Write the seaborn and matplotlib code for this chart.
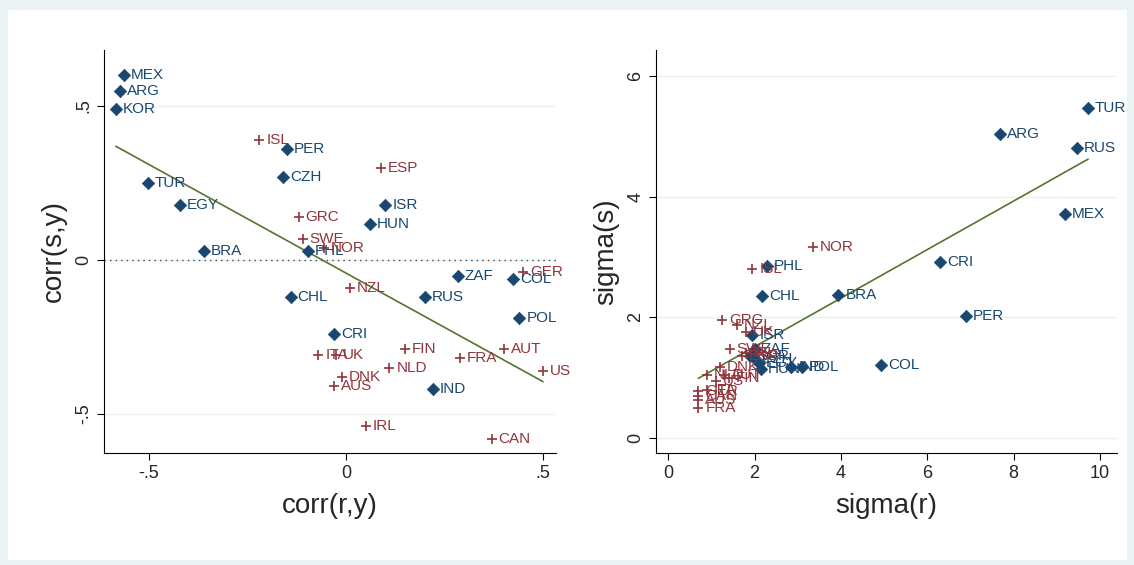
import numpy as np
import pandas as pd
import matplotlib
matplotlib.use("Agg")
import matplotlib.pyplot as plt
import seaborn as sns

em_names = ["MEX","ARG","KOR","TUR","EGY","BRA","PER","CZH","ISR","HUN","PHL","ZAF","COL","RUS","CHL","POL","CRI","IND"]
em_corr_ry = [-0.563,-0.574,-0.584,-0.503,-0.421,-0.36,-0.15,-0.16,0.10,0.061,-0.096,0.284,0.424,0.20,-0.14,0.44,-0.03,0.22]
em_corr_sy = [0.60,0.549,0.49,0.25,0.18,0.03,0.36,0.27,0.18,0.117,0.03,-0.052,-0.062,-0.12,-0.12,-0.19,-0.24,-0.42]
em_sig_r = [9.19,7.69,1.9,9.72,2.1,3.94,6.90,2.0,1.95,2.15,2.29,2.0,4.93,9.47,2.18,3.1,6.30,2.85]
em_sig_s = [3.71,5.04,1.35,5.47,1.25,2.37,2.02,1.30,1.71,1.15,2.85,1.48,1.21,4.81,2.35,1.17,2.92,1.17]

dv_names = ["ISL","ESP","GRC","SWE","NOR","NZL","GER","FIN","ITA","UK","FRA","AUT","US","NLD","DNK","AUS","IRL","CAN"]
dv_corr_ry = [-0.22,0.089,-0.12,-0.11,-0.056,0.01,0.45,0.15,-0.07,-0.025,0.29,0.40,0.50,0.11,-0.01,-0.03,0.05,0.37]
dv_corr_sy = [0.39,0.30,0.14,0.068,0.04,-0.09,-0.04,-0.29,-0.31,-0.31,-0.32,-0.29,-0.36,-0.35,-0.38,-0.41,-0.54,-0.58]
dv_sig_r = [1.95,1.7,1.25,1.43,3.36,1.6,0.7,1.4,0.9,1.8,0.7,1.3,1.1,0.9,1.2,0.7,1.8,0.7]
dv_sig_s = [2.80,1.35,1.96,1.48,3.17,1.87,0.78,1.0,0.8,1.75,0.5,1.05,0.95,1.05,1.18,0.63,1.4,0.70]

df = pd.DataFrame({
    "name": em_names + dv_names,
    "corr_ry": em_corr_ry + dv_corr_ry,
    "corr_sy": em_corr_sy + dv_corr_sy,
    "sig_r": em_sig_r + dv_sig_r,
    "sig_s": em_sig_s + dv_sig_s,
    "grp": ["em"] * len(em_names) + ["dv"] * len(dv_names),
})

BLUE = "#1a476f"
RED = "#90353b"
GREEN = "#55752f"
sns.set_style("white")
plt.rcParams["font.family"] = ["Liberation Sans", "DejaVu Sans"]

fig = plt.figure(figsize=(11.34, 5.65), dpi=100)
fig.patch.set_facecolor("#eaf2f3")
fig.patches.append(plt.Rectangle((8/1134, 1-560/565), 1119/1134, 550/565,
                                 transform=fig.transFigure, facecolor="white", edgecolor="none", zorder=-10))

axL = fig.add_axes([104/1134, 1-453/565, 452/1134, 403/565])
axR = fig.add_axes([656/1134, 1-453/565, 461/1134, 403/565])
axL.set_zorder(5); axR.set_zorder(5)

def panel(ax, xc, yc, xlim, ylim, xt, xtl, yt, ytl, xlabel, ylabel, zero):
    ax.set_facecolor("white")
    for yv in yt:
        ax.axhline(yv, color="#eaf2f3", lw=1, zorder=0)
    if zero:
        ax.axhline(0, color="#444444", lw=1, ls=(0, (1, 3)), zorder=1)
    em = df[df.grp == "em"]
    dv = df[df.grp == "dv"]
    sns.scatterplot(data=em, x=xc, y=yc, ax=ax, marker="D", s=40, color=BLUE, edgecolor=BLUE, zorder=3, legend=False)
    sns.scatterplot(data=dv, x=xc, y=yc, ax=ax, marker="+", s=45, color=RED, linewidth=1.2, zorder=3, legend=False)
    for _, r in df.iterrows():
        ax.annotate(r["name"], (r[xc], r[yc]), xytext=(5, 0), textcoords="offset points",
                    va="center", ha="left", fontsize=11, color=BLUE if r.grp == "em" else RED, zorder=4)
    b, a = np.polyfit(df[xc], df[yc], 1)
    xs = np.array([df[xc].min(), df[xc].max()])
    ax.plot(xs, a + b * xs, color=GREEN, lw=1.2, zorder=2)
    ax.set_xlim(*xlim); ax.set_ylim(*ylim)
    ax.set_xticks(xt); ax.set_xticklabels(xtl, fontsize=13)
    ax.set_yticks(yt); ax.set_yticklabels(ytl, fontsize=13, rotation=90, va="center")
    ax.set_xlabel(xlabel, fontsize=20, labelpad=8)
    ax.set_ylabel(ylabel, fontsize=20, labelpad=6)
    for s in ["top", "right"]:
        ax.spines[s].set_visible(False)
    for s in ["left", "bottom"]:
        ax.spines[s].set_color("black"); ax.spines[s].set_linewidth(0.8)
    ax.tick_params(axis="both", length=5, color="black", direction="out", left=True, bottom=True)

panel(axL, "corr_ry", "corr_sy", (-0.614, 0.533), (-0.627, 0.682),
      [-0.5, 0, 0.5], ["-.5", "0", ".5"], [-0.5, 0, 0.5], ["-.5", "0", ".5"],
      "corr(r,y)", "corr(s,y)", True)
panel(axR, "sig_r", "sig_s", (-0.28, 10.39), (-0.25, 6.43),
      [0, 2, 4, 6, 8, 10], ["0", "2", "4", "6", "8", "10"], [0, 2, 4, 6], ["0", "2", "4", "6"],
      "sigma(r)", "sigma(s)", False)

fig.savefig("out.png", dpi=100, facecolor=fig.get_facecolor())
